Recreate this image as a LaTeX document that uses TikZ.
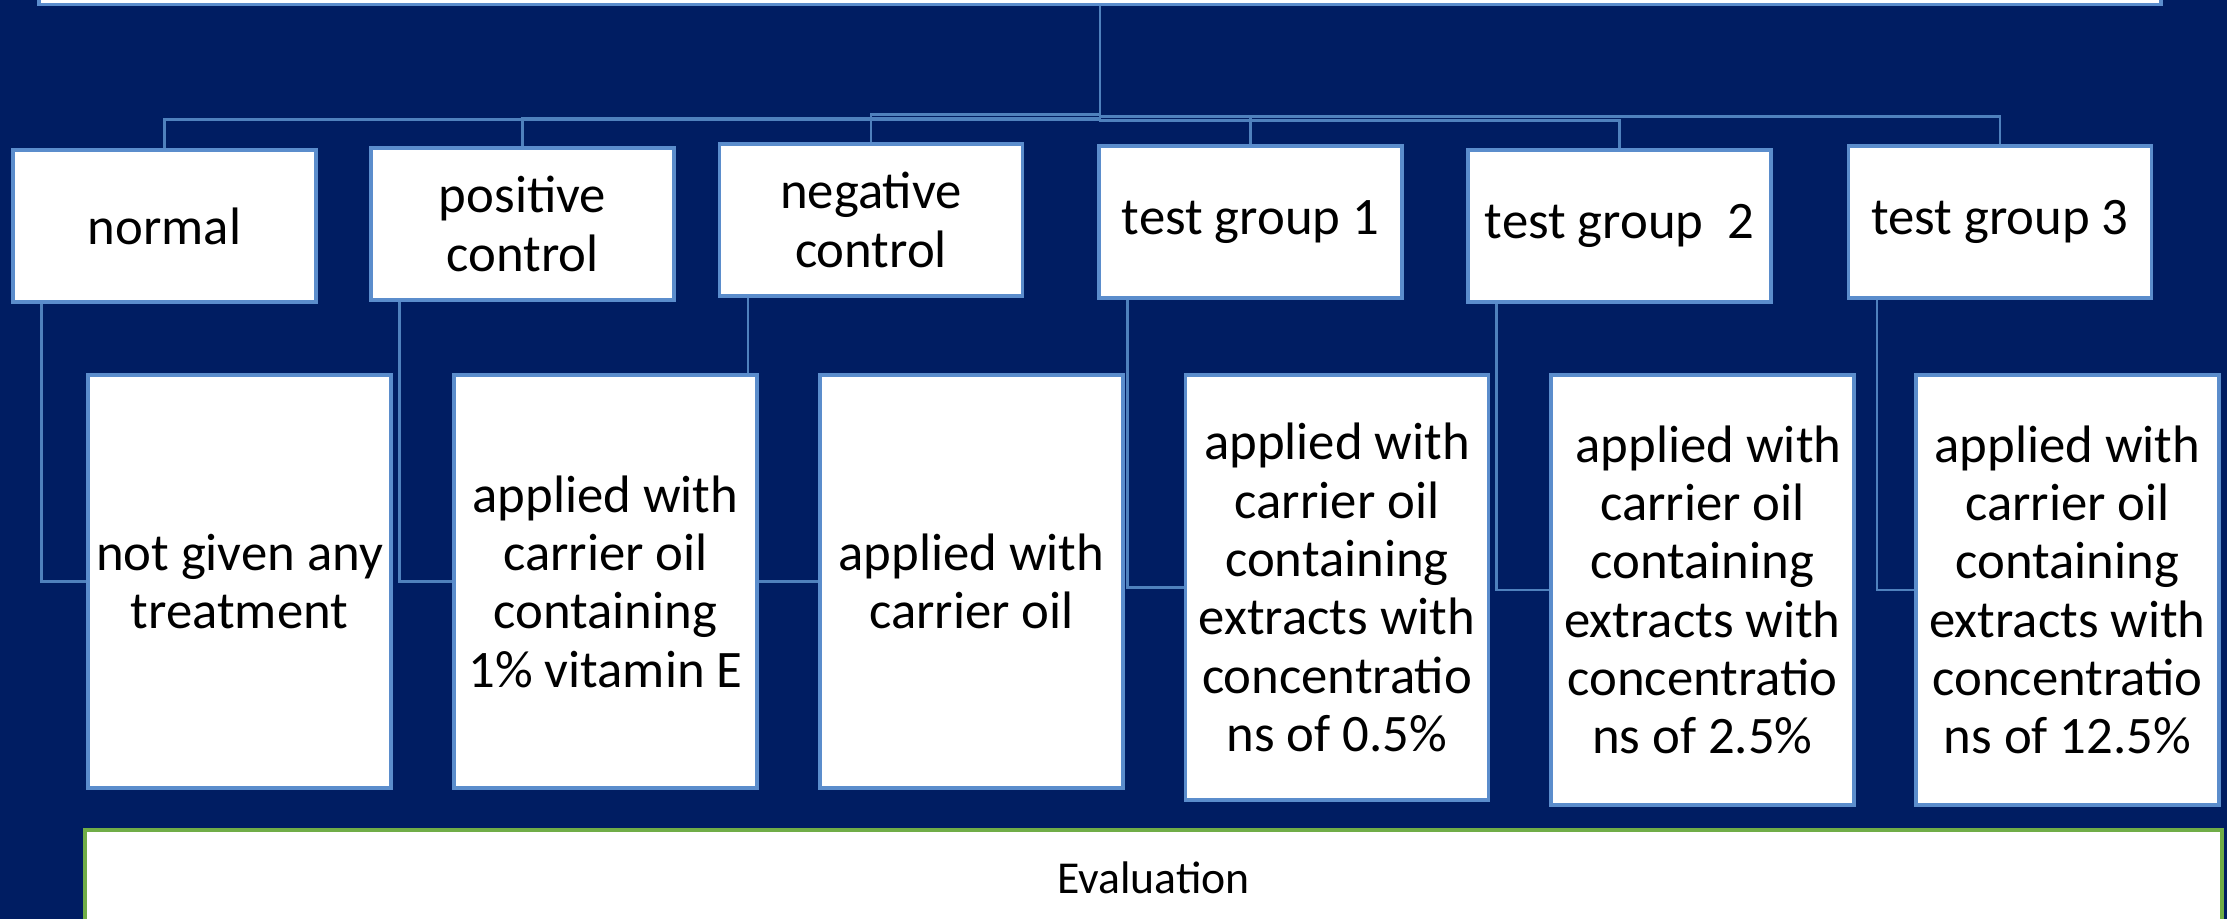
\documentclass[tikz,border=0pt]{standalone}
\usepackage{fontspec}
\setmainfont{Carlito}
\usepackage{tikz}
\usetikzlibrary{backgrounds}

\definecolor{navy}{RGB}{0,29,98}
\definecolor{linkblue}{RGB}{79,129,189}
\definecolor{boxblue}{RGB}{91,141,204}
\definecolor{evalgreen}{RGB}{112,173,71}

\begin{document}
\begin{tikzpicture}[align=center]
    \tikzset{
        grp/.style      =   { rectangle
                            , fill=white
                            , draw=boxblue
                            , line width=0.9pt
                            , inner sep=0pt
                            , minimum width=3.03cm
                            , minimum height=1.52cm
                            , font=\fontsize{15}{17}\selectfont
        }
        , det/.style    =   { grp
                            , minimum height=4.13cm
                            , font=\fontsize{15}{16.6}\selectfont
        }
        , conn/.style   =   { draw=linkblue
                            , line width=0.8pt
        }
    }
    \useasboundingbox (0,0) rectangle (22.27,-9.19);

    \node(top)[grp, minimum width=21.22cm, minimum height=1cm] at (11,0.455) {};

    \node(normal)[grp] at (1.645,-2.26)  {normal};
    \node(pos)[grp]    at (5.225,-2.24)  {positive\\control};
    \node(neg)[grp]    at (8.71,-2.20)   {negative\\control};
    \node(tg1)[grp]    at (12.505,-2.22) {test group 1};
    \node(tg2)[grp]    at (16.195,-2.26) {test group\ \ 2};
    \node(tg3)[grp]    at (20.00,-2.22)  {test group 3};

    \node(d1)[det] at (2.395,-5.815) {not given any\\treatment};
    \node(d2)[det] at (6.055,-5.815) {applied with\\carrier oil\\containing\\1\% vitamin E};
    \node(d3)[det] at (9.715,-5.815) {applied with\\carrier oil};
    \node(d4)[det, minimum height=4.25cm] at (13.37,-5.875)
        {applied with\\carrier oil\\containing\\extracts with\\concentratio\\ns of 0.5\%};
    \node(d5)[det, minimum height=4.30cm] at (17.025,-5.90)
        {\hspace*{0.23em}applied with\\carrier oil\\containing\\extracts with\\concentratio\\ns of 2.5\%};
    \node(d6)[det, minimum height=4.30cm] at (20.675,-5.90)
        {applied with\\carrier oil\\containing\\extracts with\\concentratio\\ns of 12.5\%};

    \node(eval)[grp, draw=evalgreen, minimum width=21.37cm, minimum height=0.96cm
               , font=\fontsize{13}{15}\selectfont] at (11.535,-8.78) {Evaluation};

    \begin{pgfonlayer}{background}
        \fill[navy] (0,0) rectangle (22.27,-9.19);
        % tree from the top box
        \draw[conn] (top.south) -- ++(0,-1.135) -| (normal.north);
        \draw[conn] (top.south) -- ++(0,-1.125) -| (pos.north);
        \draw[conn] (top.south) -- ++(0,-1.085) -| (neg.north);
        \draw[conn] (top.south) -- ++(0,-1.105) -| (tg1.north);
        \draw[conn] (top.south) -- ++(0,-1.145) -| (tg2.north);
        \draw[conn] (top.south) -- ++(0,-1.105) -| (tg3.north);
        % groups to their treatment
        \draw[conn] ([xshift=3mm]normal.south west) |- (d1.west);
        \draw[conn] ([xshift=3mm]pos.south west)    |- (d2.west);
        \draw[conn] ([xshift=3mm]neg.south west)    |- (d3.west);
        \draw[conn] ([xshift=3mm]tg1.south west)    |- (d4.west);
        \draw[conn] ([xshift=3mm]tg2.south west)    |- (d5.west);
        \draw[conn] ([xshift=3mm]tg3.south west)    |- (d6.west);
    \end{pgfonlayer}
\end{tikzpicture}
\end{document}
